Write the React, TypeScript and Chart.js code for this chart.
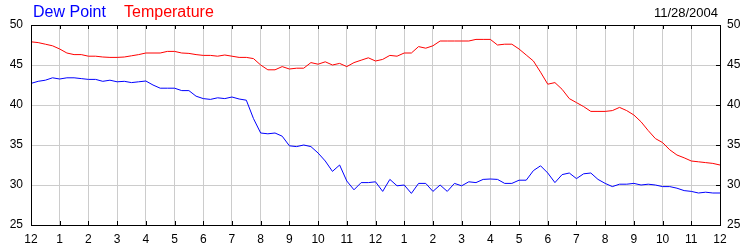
import React, { useEffect, useRef } from "react";
import { Chart, registerables } from "chart.js";

Chart.register(...registerables);

// Readings every 15 minutes, from 12 midnight to 12 midnight (97 samples)
const STEP_HOURS = 0.25;

const hourLabels = [
  "12", "1", "2", "3", "4", "5", "6", "7", "8", "9", "10", "11",
  "12", "1", "2", "3", "4", "5", "6", "7", "8", "9", "10", "11", "12",
];

const temperature = [
  47.9, 47.8, 47.6, 47.4, 47.0, 46.5, 46.3, 46.3, 46.1, 46.1, 46.0, 45.95, 45.95, 46.0, 46.15, 46.3, 46.5,
  46.5, 46.5, 46.7, 46.7, 46.5, 46.45, 46.3, 46.2, 46.2, 46.1, 46.25, 46.1, 45.95, 45.95, 45.8, 45.0,
  44.4, 44.4, 44.8, 44.5, 44.6, 44.6, 45.3, 45.1, 45.4, 45.0, 45.2, 44.8, 45.3, 45.6, 45.9, 45.5,
  45.7, 46.2, 46.1, 46.5, 46.5, 47.3, 47.1, 47.4, 48.0, 48.0, 48.0, 48.0, 48.0, 48.2, 48.2, 48.2,
  47.5, 47.6, 47.6, 47.0, 46.25, 45.5, 44.1, 42.6, 42.8, 41.96, 40.8, 40.3, 39.8, 39.2, 39.2, 39.2,
  39.3, 39.7, 39.3, 38.75, 37.9, 36.8, 35.8, 35.3, 34.4, 33.75, 33.4, 33.0, 32.9, 32.8, 32.7, 32.5,
];

const dewPoint = [
  42.7, 42.96, 43.1, 43.4, 43.25, 43.4, 43.4, 43.3, 43.2, 43.2, 42.96, 43.1, 42.9, 42.96, 42.8, 42.9, 43.0,
  42.5, 42.1, 42.1, 42.1, 41.8, 41.8, 41.1, 40.8, 40.7, 40.9, 40.8, 41.0, 40.75, 40.6, 38.3, 36.5,
  36.4, 36.5, 36.1, 34.9, 34.8, 35.0, 34.8, 34.0, 33.0, 31.7, 32.5, 30.5, 29.4, 30.3, 30.3, 30.4,
  29.2, 30.7, 29.9, 30.0, 28.95, 30.2, 30.2, 29.2, 30.0, 29.2, 30.2, 29.9, 30.4, 30.3, 30.7, 30.75,
  30.7, 30.2, 30.2, 30.6, 30.6, 31.8, 32.4, 31.5, 30.3, 31.3, 31.5, 30.8, 31.4, 31.5, 30.7, 30.2,
  29.8, 30.1, 30.1, 30.2, 30.0, 30.1, 30.0, 29.8, 29.8, 29.6, 29.3, 29.2, 29.0, 29.1, 29.0, 29.0,
];

const yTicks = [25, 30, 35, 40, 45, 50];
const dateText = "11/28/2004";
const dewLabel = "Dew Point";
const tempLabel = "Temperature";

const FONT = "'Liberation Sans', Arial, sans-serif";

const framePlugin = {
  id: "frameAndTitles",
  afterDraw(chart: any) {
    const { ctx, chartArea } = chart;
    const { left, right, top, bottom } = chartArea;
    const xs = chart.scales.x;
    const ys = chart.scales.y;
    ctx.save();
    ctx.strokeStyle = "#000";
    ctx.lineWidth = 1;
    ctx.beginPath();
    ctx.rect(Math.round(left) + 0.5, Math.round(top) + 0.5, Math.round(right - left), Math.round(bottom - top));
    for (let h = 0; h < hourLabels.length; h++) {
      const px = Math.round(xs.getPixelForValue(h)) + 0.5;
      ctx.moveTo(px, top);
      ctx.lineTo(px, top + 4);
      ctx.moveTo(px, bottom);
      ctx.lineTo(px, bottom - 4);
    }
    for (const v of yTicks) {
      const py = Math.round(ys.getPixelForValue(v)) + 0.5;
      ctx.moveTo(right, py);
      ctx.lineTo(right - 4, py);
    }
    ctx.stroke();

    ctx.font = `16px ${FONT}`;
    ctx.textBaseline = "alphabetic";
    ctx.textAlign = "left";
    ctx.fillStyle = "#0000ff";
    ctx.fillText(dewLabel, 33, 17);
    ctx.fillStyle = "#ff0000";
    ctx.fillText(tempLabel, 124, 17);
    ctx.font = `13px ${FONT}`;
    ctx.fillStyle = "#000";
    ctx.textAlign = "right";
    ctx.fillText(dateText, 718, 17);
    ctx.restore();
  },
};

export default function App() {
  const canvasRef = useRef<HTMLCanvasElement | null>(null);

  useEffect(() => {
    document.body.style.margin = "0";
    const canvas = canvasRef.current;
    if (!canvas) return;
    const toPoints = (arr: number[]) => arr.map((v, i) => ({ x: i * STEP_HOURS, y: v }));
    const chart = new Chart(canvas, {
      type: "line",
      data: {
        datasets: [
          {
            label: dewLabel,
            data: toPoints(dewPoint),
            borderColor: "#0000ff",
            borderWidth: 1,
            pointRadius: 0,
            tension: 0,
            yAxisID: "y",
          },
          {
            label: tempLabel,
            data: toPoints(temperature),
            borderColor: "#ff0000",
            borderWidth: 1,
            pointRadius: 0,
            tension: 0,
            yAxisID: "y",
          },
        ],
      },
      options: {
        responsive: false,
        animation: false,
        layout: { padding: { top: 25, left: 0, right: 0, bottom: 0 } },
        plugins: { legend: { display: false }, tooltip: { enabled: false } },
        scales: {
          x: {
            type: "linear",
            min: 0,
            max: 24,
            afterFit: (s: any) => { s.height = 25; },
            grid: { color: "#cccccc", lineWidth: 1, drawTicks: false },
            border: { display: true, color: "#000" },
            ticks: {
              stepSize: 1,
              autoSkip: false,
              maxRotation: 0,
              padding: 7,
              color: "#000",
              font: { family: FONT, size: 12 },
              callback: (v: any) => hourLabels[v],
            },
          },
          y: {
            position: "left",
            min: 25,
            max: 50,
            afterFit: (s: any) => { s.width = 31; },
            grid: { color: "#cccccc", lineWidth: 1, drawTicks: false },
            border: { display: true, color: "#000" },
            ticks: { stepSize: 5, padding: 8, color: "#000", font: { family: FONT, size: 12 } },
          },
          y2: {
            position: "right",
            min: 25,
            max: 50,
            afterFit: (s: any) => { s.width = 30; },
            grid: { display: false, drawTicks: false },
            border: { display: true, color: "#000" },
            ticks: { stepSize: 5, padding: 7, color: "#000", font: { family: FONT, size: 12 } },
          },
        },
      },
      plugins: [framePlugin],
    });
    return () => chart.destroy();
  }, []);

  return (
    <div style={{ width: 750, height: 250, background: "#fff" }}>
      <canvas ref={canvasRef} width={750} height={250} style={{ display: "block" }} />
    </div>
  );
}
